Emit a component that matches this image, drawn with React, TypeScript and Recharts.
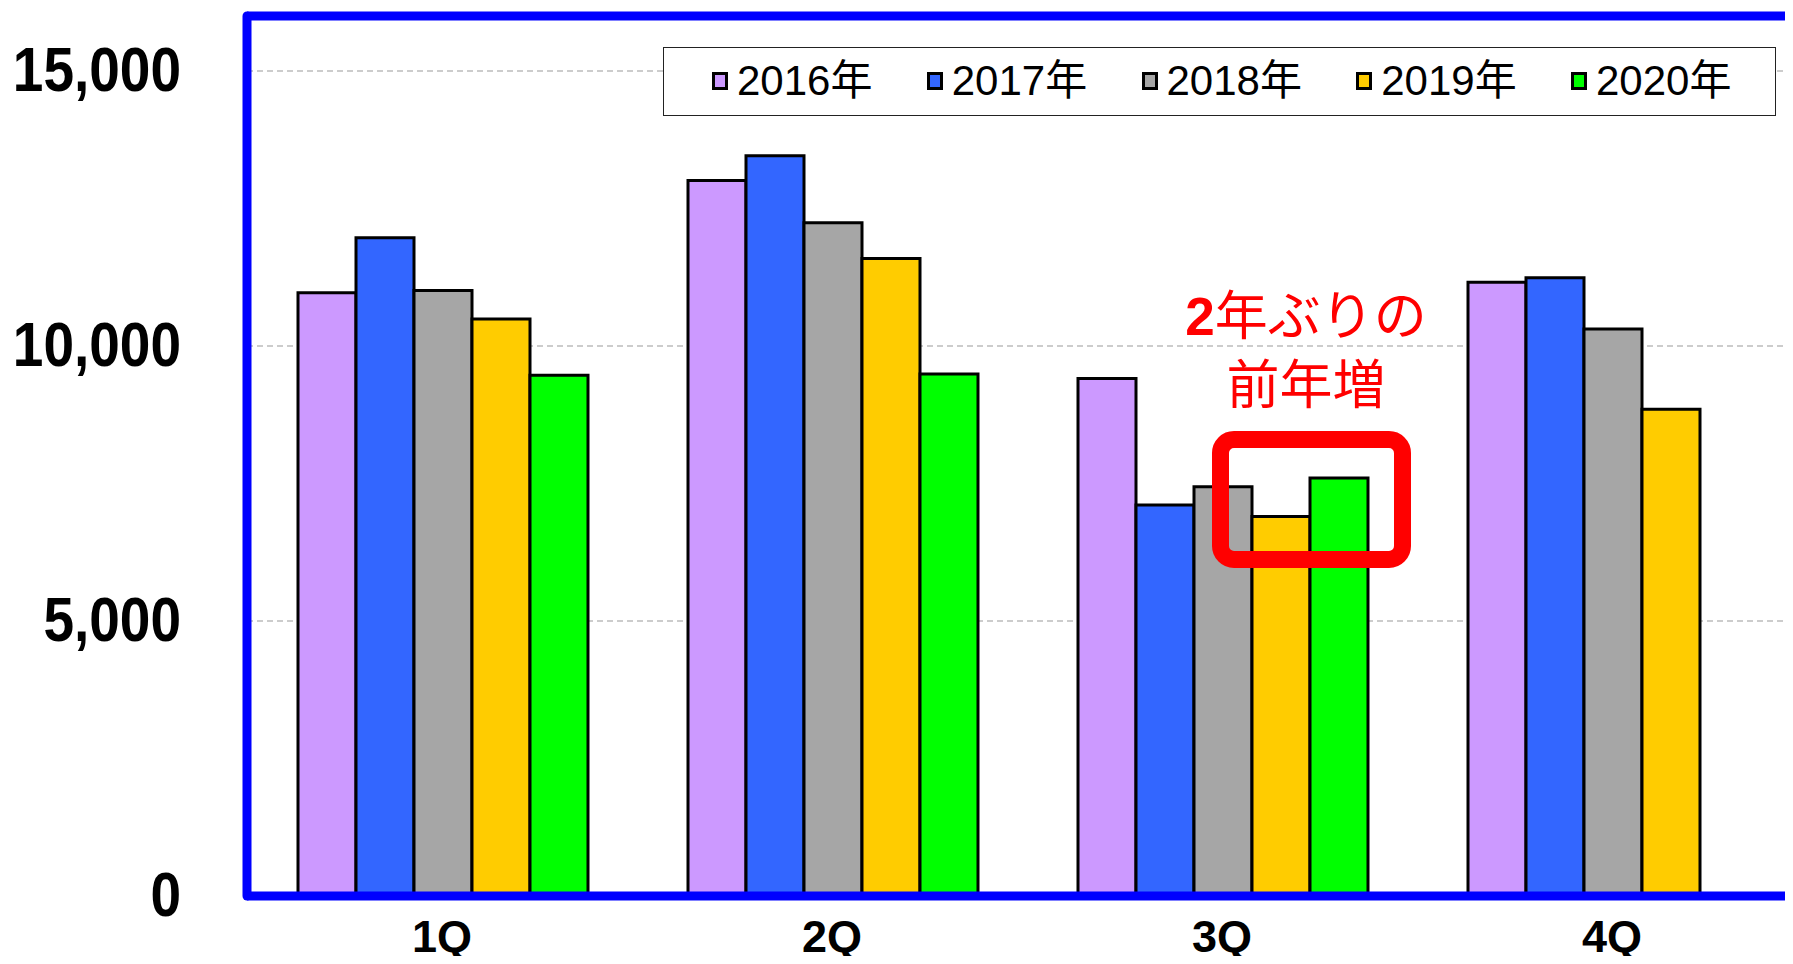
import React from 'react';
import {
  BarChart,
  Bar,
  XAxis,
  YAxis,
  CartesianGrid,
  ReferenceLine
} from 'recharts';

// 四半期ごとの値
const quarters = ['1Q', '2Q', '3Q', '4Q'];
const v2016 = [10970, 13010, 9410, 11160];
const v2017 = [11970, 13460, 7110, 11240];
const v2018 = [11010, 12240, 7440, 10310];
const v2019 = [10490, 11590, 6900, 8850];
const v2020: (number | null)[] = [9470, 9490, 7600, null];
const yTicks = [0, 5000, 10000, 15000];

const seriesNames = ['2016年', '2017年', '2018年', '2019年', '2020年'];
const seriesColors = ['#CC99FF', '#3366FF', '#A6A6A6', '#FFCC00', '#00FF00'];
const seriesValues = [v2016, v2017, v2018, v2019, v2020];

const data = quarters.map((q, i) => {
  const row: { [key: string]: string | number | null } = { q };
  seriesNames.forEach((name, s) => {
    row[name] = seriesValues[s][i];
  });
  return row;
});

const numFont = '"Liberation Sans", Arial, sans-serif';
const jpFont = '"Liberation Sans", Arial, "Noto Sans CJK JP", sans-serif';

// 縦に少し伸ばした太字ラベル
const YTick = (props: any) => {
  const { x, y, payload } = props;
  return (
    <text
      transform={`translate(${x},${y + 20}) scale(1,1.13)`}
      textAnchor="end"
      fontSize={55}
      fontWeight="bold"
      fontFamily={numFont}
      fill="#000"
    >
      {Number(payload.value).toLocaleString('en-US')}
    </text>
  );
};

const XTick = (props: any) => {
  const { x, y, payload } = props;
  return (
    <text
      x={x}
      y={y + 56}
      textAnchor="middle"
      fontSize={45}
      fontWeight="bold"
      fontFamily={numFont}
      fill="#000"
    >
      {payload.value}
    </text>
  );
};

const LegendBox: React.FC = () => (
  <div
    style={{
      position: 'absolute',
      left: 663,
      top: 47,
      width: 1113,
      height: 69,
      boxSizing: 'border-box',
      border: '1.5px solid #222',
      background: '#fff'
    }}
  >
    {seriesNames.map((name, i) => (
      <div
        key={name}
        style={{
          position: 'absolute',
          left: 48 + i * 214.75,
          top: 0,
          height: 66,
          display: 'flex',
          alignItems: 'center'
        }}
      >
        <span
          style={{
            display: 'inline-block',
            width: 16,
            height: 18,
            boxSizing: 'border-box',
            border: '3px solid #000',
            background: seriesColors[i],
            marginRight: 9
          }}
        />
        <span style={{ fontFamily: jpFont, fontSize: 42, lineHeight: 1, color: '#000' }}>
          {name}
        </span>
      </div>
    ))}
  </div>
);

const Annotation: React.FC = () => (
  <>
    <div
      style={{
        position: 'absolute',
        left: 1106,
        width: 400,
        top: 280,
        textAlign: 'center',
        color: '#FF0000',
        fontSize: 53,
        lineHeight: '64px',
        fontFamily: '"Noto Sans CJK JP", sans-serif'
      }}
    >
      <div>
        <span style={{ fontFamily: numFont, fontWeight: 'bold' }}>2</span>年ぶりの
      </div>
      <div>前年増</div>
    </div>
    <div
      style={{
        position: 'absolute',
        left: 1212,
        top: 431,
        width: 199,
        height: 137,
        boxSizing: 'border-box',
        border: '17px solid #FF0000',
        borderRadius: 22
      }}
    />
  </>
);

const App: React.FC = () => {
  return (
    <div style={{ position: 'relative', width: 1793, height: 964, overflow: 'hidden', margin: -8, background: '#fff' }}>
      <BarChart
        width={1830}
        height={964}
        data={data}
        margin={{ top: 16, right: 23, bottom: 0, left: 17 }}
        barCategoryGap={51}
        barGap={0}
      >
        <CartesianGrid vertical={false} stroke="#999" strokeDasharray="6 4" />
        <XAxis
          dataKey="q"
          height={68}
          axisLine={{ stroke: '#0000FF', strokeWidth: 9 }}
          tickLine={false}
          tickSize={0}
          tickMargin={0}
          tick={<XTick />}
        />
        <YAxis
          domain={[0, 16000]}
          ticks={yTicks}
          width={230}
          axisLine={{ stroke: '#0000FF', strokeWidth: 9, strokeLinecap: 'round' }}
          tickLine={false}
          tickSize={0}
          tickMargin={66}
          tick={<YTick />}
        />
        <ReferenceLine y={16000} stroke="#0000FF" strokeWidth={9} />
        {seriesNames.map((name, i) => (
          <Bar
            key={name}
            dataKey={name}
            fill={seriesColors[i]}
            stroke="#000"
            strokeWidth={3}
            isAnimationActive={false}
          />
        ))}
      </BarChart>
      <LegendBox />
      <Annotation />
    </div>
  );
};

export default App;
